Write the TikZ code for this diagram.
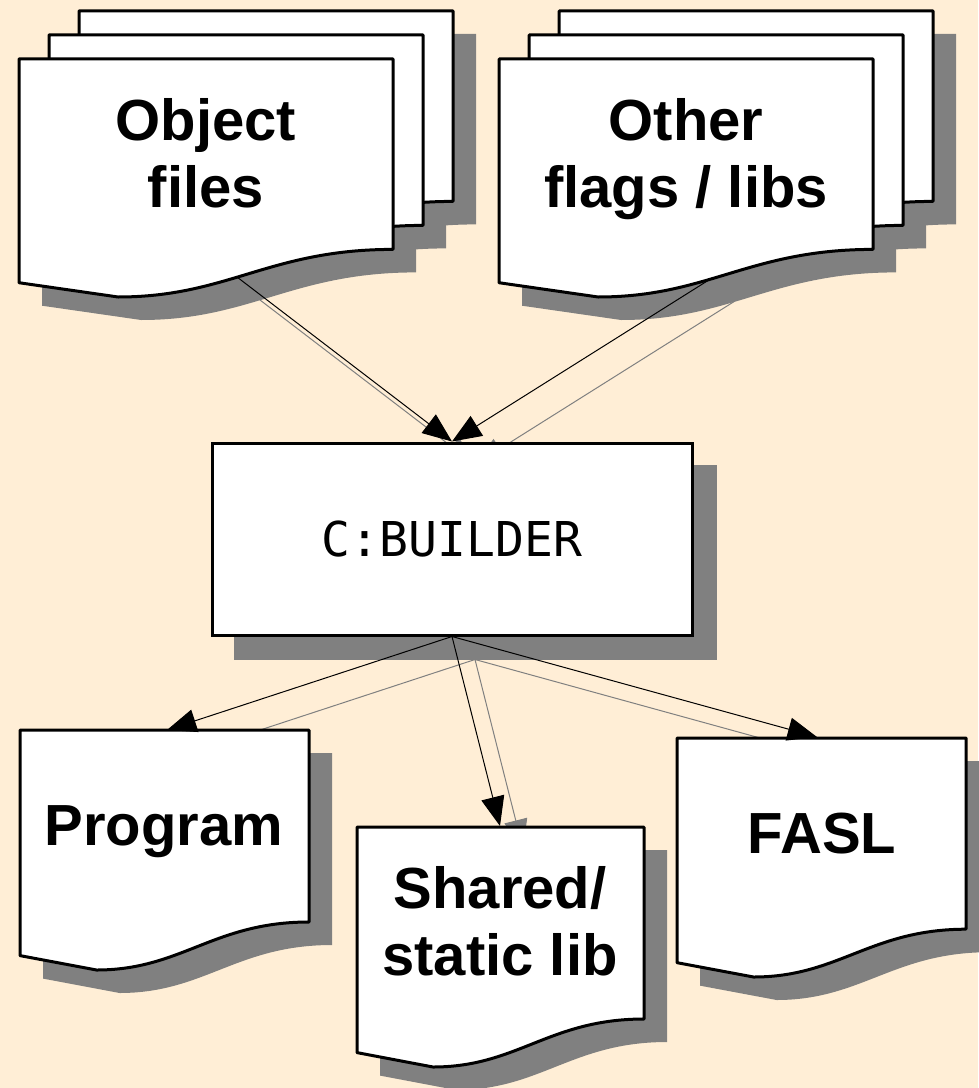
\documentclass[tikz,border=0pt]{standalone}
\usepackage{fontspec}
\setmainfont{Liberation Sans}
\newfontfamily\codefont{DejaVu Sans Mono}
\usetikzlibrary{arrows.meta}

\definecolor{paper}{RGB}{255,238,214}
\definecolor{dropgray}{RGB}{128,128,128}

\pgfdeclarelayer{bg}
\pgfdeclarelayer{shadow}
\pgfsetlayers{bg,shadow,main}

% Outline of a document sheet: left x, top y, width, height (y grows downward)
\newcommand{\pagepath}[4]{%
  (#1,#2) -- ({#1+#3},#2) -- ({#1+#3},{#2+0.8*#4})
  .. controls ({#1+0.669*#3},{#2+0.8*#4}) and ({#1+0.559*#3},{#2+#4}) ..
  ({#1+0.265*#3},{#2+#4}) -- (#1,{#2+0.94*#4}) -- cycle}

% A sheet with its drop shadow on the shadow layer
\newcommand{\docpage}[4]{%
  \begin{pgfonlayer}{shadow}
    \fill[dropgray, shift={(23,23)}] \pagepath{#1}{#2}{#3}{#4};
  \end{pgfonlayer}
  \path[pageline] \pagepath{#1}{#2}{#3}{#4};}

\begin{document}
\begin{tikzpicture}[x=0.75pt, y=-0.75pt,
  pageline/.style={draw=black, line width=2.25pt, line join=round, fill=white},
  boxline/.style={draw=black, line width=2.25pt, fill=white},
  title/.style={font=\fontsize{43.5}{50.25}\selectfont\bfseries, inner sep=0pt},
  tipshape/.style={-{Triangle[length=22pt, width=17.5pt]}},
  link/.style={draw=black, line width=0.75pt, tipshape},
  linkshadow/.style={draw=dropgray, line width=0.75pt, tipshape},
  shadowshift/.style={shift={(23,23)}}]

\begin{pgfonlayer}{bg}
  \fill[paper] (0,0) rectangle (978,1088);
\end{pgfonlayer}
\useasboundingbox (0,0) rectangle (978,1088);

% stack of object files
\docpage{79}{11}{374}{238}
\docpage{49}{35}{374}{238}
\docpage{19}{59}{374}{238}
\node[title, anchor=base] (obj) at (206,140)
  {\begin{tabular}[t]{@{}c@{}}Object\\files\end{tabular}};

% stack of flags and libraries
\docpage{559}{11}{374}{238}
\docpage{529}{35}{374}{238}
\docpage{499}{59}{374}{238}
\node[title, anchor=base] (oth) at (686,140)
  {\begin{tabular}[t]{@{}c@{}}Other\\flags / libs\end{tabular}};

% the builder
\node[boxline, minimum width=360pt, minimum height=144pt, inner sep=0pt,
      font=\codefont\fontsize{36}{40}\selectfont, text height=26.2pt, text depth=0pt]
  (bld) at (452,539) {C:BUILDER};
\begin{pgfonlayer}{shadow}
  \fill[dropgray] ([shadowshift]bld.north west) rectangle ([shadowshift]bld.south east);
\end{pgfonlayer}

% outputs
\docpage{20}{730}{289}{240}
\node[title, anchor=base] (prog) at (164,845) {Program};

\docpage{357}{827}{287}{240}
\node[title, anchor=base] (shl) at (500,908)
  {\begin{tabular}[t]{@{}c@{}}Shared/\\static lib\end{tabular}};

\docpage{677}{738}{289}{239}
\node[title, anchor=base] (fasl) at (822,853) {FASL};

% connector ends on the sheet outlines
\coordinate (obj-out) at (237,277);
\coordinate (oth-out) at (712,278);
\coordinate (prog-in) at (167,730);
\coordinate (shl-in) at (500,826);
\coordinate (fasl-in) at (817,737);

% connector shadows
\begin{pgfonlayer}{shadow}
  \draw[linkshadow] ([shadowshift]obj-out) -- ([shadowshift]bld.north);
  \draw[linkshadow] ([shadowshift]oth-out) -- ([shadowshift]bld.north);
  \draw[linkshadow] ([shadowshift]bld.south) -- ([shadowshift]prog-in);
  \draw[linkshadow] ([shadowshift]bld.south) -- ([shadowshift]shl-in);
  \draw[linkshadow] ([shadowshift]bld.south) -- ([shadowshift]fasl-in);
\end{pgfonlayer}

% connectors
\draw[link] (obj-out) -- (bld.north);
\draw[link] (oth-out) -- (bld.north);
\draw[link] (bld.south) -- (prog-in);
\draw[link] (bld.south) -- (shl-in);
\draw[link] (bld.south) -- (fasl-in);
\end{tikzpicture}
\end{document}
